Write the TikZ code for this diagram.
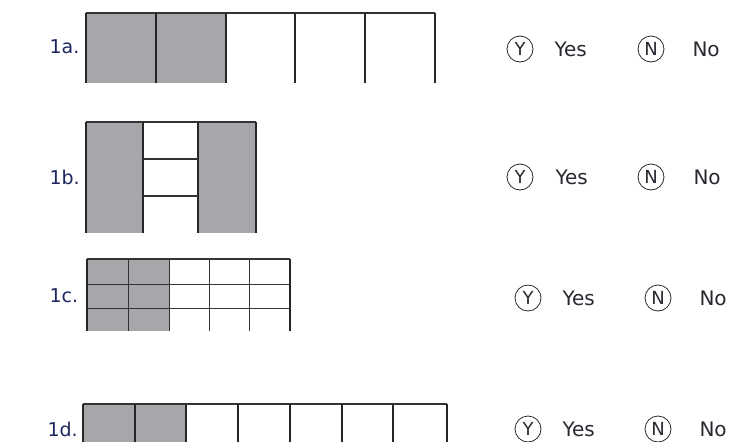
\documentclass[tikz,border=0pt]{standalone}
\usepackage{fontspec}
\setmainfont{DejaVu Sans}
\usepackage{tikz}
\usetikzlibrary{positioning}
\definecolor{barfill}{RGB}{166,167,170}
\definecolor{inkdark}{RGB}{40,40,48}
\definecolor{inknavy}{RGB}{28,38,95}

\begin{document}
\begin{tikzpicture}[
  x=1pt, y=-1pt,
  lbl/.style={anchor=west, inknavy, font=\fontsize{19}{21}\selectfont},
  choice/.style={draw=inkdark, circle, line width=0.8pt, inner sep=0pt,
                 minimum size=26pt, inkdark, font=\fontsize{18}{20}\selectfont},
  answer/.style={anchor=west, inkdark, font=\fontsize{20}{22}\selectfont},
  post/.style={line width=2pt, black!85},
  rail/.style={line width=1.2pt, black!80},
  thin/.style={line width=1pt, black!80},
]
  \useasboundingbox (0,0) rectangle (732,442);

  % 1a: five strips, two shaded
  \fill[barfill] (86,13) rectangle (226,83);
  \draw[rail] (86,13) -- (435,13);
  \foreach \x in {86,156,226,295,365,435}
    \draw[post] (\x,13) -- (\x,83);

  % 1b: two shaded columns with a ladder between
  \fill[barfill] (86,122) rectangle (143,233);
  \fill[barfill] (198,122) rectangle (256,233);
  \draw[rail] (86,122) -- (256,122);
  \foreach \x in {86,143,198,256}
    \draw[post] (\x,122) -- (\x,233);
  \foreach \y in {159,196}
    \draw[rail] (143,\y) -- (198,\y);

  % 1c: grid of 5 x 3, two columns shaded
  \fill[barfill] (87,259) rectangle (169,331);
  \foreach \y in {284,308}
    \draw[thin] (87,\y) -- (290,\y);
  \draw[rail] (87,259) -- (290,259);
  \foreach \x in {128,169,209,249}
    \draw[thin] (\x,259) -- (\x,331);
  \draw[post] (87,259) -- (87,331);
  \draw[post] (290,259) -- (290,331);

  % 1d: seven strips, two shaded
  \fill[barfill] (83,404) rectangle (186,442);
  \draw[rail] (83,404) -- (447,404);
  \foreach \x in {83,135,186,238,290,342,393,447}
    \draw[post] (\x,404) -- (\x,442);

  % Item labels
  \node[lbl] (l1a) at (46,47) {1a.};
  \node[lbl] (l1b) at (46,177) {1b.};
  \node[lbl] (l1c) at (46,296) {1c.};
  \node[lbl] (l1d) at (44,429) {1d.};

  % Yes / No choices
  \node[choice] (y1a) at (520,49) {Y};
  \node[answer] (t1a) at (551,49) {Yes};
  \node[choice] (n1a) at (651,49) {N};
  \node[answer] (m1a) at (689,49) {No};

  \node[choice] (y1b) at (520,177) {Y};
  \node[answer] (t1b) at (552,177) {Yes};
  \node[choice] (n1b) at (651,177) {N};
  \node[answer] (m1b) at (690,177) {No};

  \node[choice] (y1c) at (528,298) {Y};
  \node[answer] (t1c) at (559,298) {Yes};
  \node[choice] (n1c) at (658,298) {N};
  \node[answer] (m1c) at (696,298) {No};

  \node[choice] (y1d) at (528,429) {Y};
  \node[answer] (t1d) at (559,429) {Yes};
  \node[choice] (n1d) at (658,429) {N};
  \node[answer] (m1d) at (696,429) {No};
\end{tikzpicture}
\end{document}
